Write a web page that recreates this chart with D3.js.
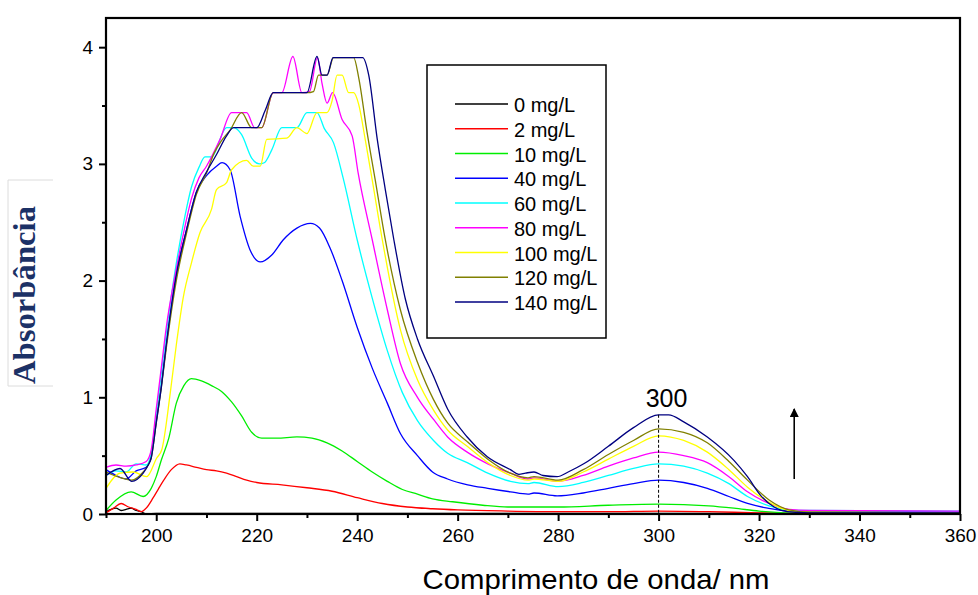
<!DOCTYPE html>
<html>
<head>
<meta charset="utf-8">
<script src="https://cdn.jsdelivr.net/npm/d3@7"></script>
<style>
  body { margin: 0; background: #ffffff; }
  text { font-family: "Liberation Sans", Arial, sans-serif; }
</style>
</head>
<body>
<div id="container"></div>
<script>
let w = 978;
let h = 595;

// legend labels and line colours
let concentrations = ["0 mg/L", "2 mg/L", "10 mg/L", "40 mg/L", "60 mg/L", "80 mg/L", "100 mg/L", "120 mg/L", "140 mg/L"];
let colors = ["#000000", "#ff0000", "#00ee00", "#0000ff", "#00ffff", "#ff00ff", "#ffff00", "#808000", "#000080"];

// spectra: wavelength (nm) / absorbance
let wl0  = [190, 191, 192, 193, 194, 195, 196, 197, 198, 200, 230, 260, 300, 330, 360];
let abs0 = [0.02, 0.04, 0.05, 0.03, 0.04, 0.05, 0.03, 0.02, 0.0, 0.005, 0.005, 0.005, 0.005, 0.005, 0.005];

let wl2  = [190, 191.5, 193, 194.5, 196, 197, 198, 199.4, 200.5, 201.5, 203, 204.7, 206, 208, 210, 212, 214, 216, 218, 220, 225, 230, 235, 240, 245, 250, 255, 260, 270, 280, 290, 300, 310, 320, 330, 360];
let abs2 = [0.01, 0.05, 0.09, 0.06, 0.04, 0.02, 0.05, 0.14, 0.22, 0.29, 0.38, 0.43, 0.42, 0.40, 0.38, 0.37, 0.35, 0.32, 0.29, 0.27, 0.25, 0.225, 0.195, 0.14, 0.09, 0.06, 0.045, 0.035, 0.025, 0.02, 0.02, 0.025, 0.02, 0.01, 0.005, 0.005];

let wl10  = [190, 192, 195, 197.4, 199, 200, 201, 202.5, 204, 205.5, 207, 209, 211, 213, 215, 217, 219, 221, 224, 228, 231, 234, 237, 240, 243, 246, 249, 252, 255, 259, 265, 270, 280, 290, 300, 310, 315, 320, 325, 330, 360];
let abs10 = [0.03, 0.12, 0.19, 0.15, 0.22, 0.32, 0.46, 0.65, 0.95, 1.1, 1.16, 1.14, 1.1, 1.05, 0.96, 0.84, 0.70, 0.65, 0.65, 0.66, 0.65, 0.61, 0.54, 0.45, 0.36, 0.28, 0.21, 0.17, 0.13, 0.105, 0.075, 0.06, 0.06, 0.075, 0.085, 0.07, 0.05, 0.025, 0.01, 0.005, 0.005];

let wl40  = [190, 192, 194, 196, 198, 199, 200, 201, 202, 204, 206, 208, 210, 212, 213.1, 214.7, 216.7, 218.7, 220.7, 223, 225.3, 228, 230.7, 232.5, 234.6, 237, 240, 243, 246, 248.6, 252, 255, 258, 262, 266, 270.5, 274, 275.2, 279.8, 285, 290, 295, 300, 305, 309.7, 314, 317.7, 321.7, 325, 330, 360];
let abs40 = [0.38, 0.33, 0.30, 0.37, 0.40, 0.5, 0.8, 1.1, 1.45, 2.05, 2.43, 2.76, 2.9, 2.98, 3.01, 2.95, 2.55, 2.26, 2.16, 2.22, 2.35, 2.45, 2.49, 2.45, 2.28, 2.0, 1.6, 1.25, 0.95, 0.69, 0.5, 0.36, 0.3, 0.25, 0.22, 0.19, 0.17, 0.18, 0.155, 0.18, 0.22, 0.26, 0.29, 0.27, 0.22, 0.15, 0.09, 0.05, 0.03, 0.025, 0.02];

let wl60  = [190, 192, 194, 196, 198, 199, 200, 201, 202, 204, 205.7, 207, 208.5, 209.7, 211, 214, 215.4, 217, 219, 220.5, 221.5, 223, 225, 228, 230, 232, 233.5, 235.3, 237.2, 240, 243, 246, 249, 252, 255.2, 258, 261.9, 266, 270.5, 274, 275.2, 280, 285, 290, 295, 300, 305, 309.7, 314, 317.7, 322, 326, 330, 360];
let abs60 = [0.33, 0.37, 0.36, 0.43, 0.42, 0.52, 0.85, 1.2, 1.55, 2.15, 2.55, 2.8, 2.97, 3.06, 3.06, 3.31, 3.31, 3.25, 3.05, 3.0, 3.01, 3.12, 3.31, 3.31, 3.44, 3.44, 3.3, 3.18, 2.88, 2.35, 1.85, 1.4, 1.04, 0.8, 0.63, 0.52, 0.44, 0.35, 0.28, 0.26, 0.27, 0.235, 0.27, 0.33, 0.39, 0.43, 0.41, 0.35, 0.26, 0.15, 0.07, 0.035, 0.03, 0.025];

let wl80  = [190, 192, 194, 196, 198, 199, 200, 201, 202, 204, 205.4, 207, 208.5, 210, 212.7, 215, 218, 219.6, 221, 223.3, 225, 227.2, 229, 230.5, 232.1, 233, 234, 235.1, 237, 239, 240.2, 243, 246, 248.6, 252, 255.2, 258, 261.9, 266, 270.5, 274, 275.2, 280, 285, 290, 295, 300, 305, 309.7, 314, 317.7, 322, 326, 330, 360];
let abs80 = [0.40, 0.42, 0.41, 0.42, 0.45, 0.55, 0.9, 1.25, 1.6, 2.1, 2.4, 2.7, 2.88, 2.98, 3.21, 3.44, 3.44, 3.31, 3.31, 3.61, 3.61, 3.92, 3.61, 3.62, 3.91, 3.69, 3.52, 3.61, 3.38, 3.24, 2.92, 2.35, 1.75, 1.29, 1.0, 0.81, 0.66, 0.53, 0.43, 0.35, 0.30, 0.31, 0.28, 0.33, 0.41, 0.48, 0.53, 0.5, 0.44, 0.32, 0.19, 0.09, 0.04, 0.03, 0.025];

let wl100  = [190, 192.8, 195.4, 198.1, 200.1, 201.1, 202.8, 204, 205.4, 207, 208.7, 211, 212, 214, 215, 218, 219.3, 220.7, 222, 226, 228, 230, 232, 234, 235, 236, 237, 238.3, 239.3, 240.3, 241.6, 243, 245, 248.6, 252, 255.2, 258, 261.9, 266, 270.5, 274, 275.2, 280, 285, 290, 295, 300, 305, 309.7, 314, 317.7, 322, 326, 330, 360];
let abs100 = [0.22, 0.35, 0.36, 0.32, 0.48, 0.55, 1.04, 1.45, 1.86, 2.15, 2.41, 2.61, 2.78, 2.84, 2.95, 3.03, 2.98, 2.98, 3.21, 3.22, 3.31, 3.26, 3.44, 3.44, 3.54, 3.76, 3.76, 3.61, 3.61, 3.51, 3.21, 2.86, 2.35, 1.58, 1.15, 0.89, 0.72, 0.58, 0.44, 0.33, 0.29, 0.30, 0.28, 0.36, 0.47, 0.58, 0.67, 0.63, 0.53, 0.38, 0.23, 0.10, 0.03, 0.015, 0.01];

let wl120  = [190, 193, 195.1, 197.4, 198.4, 199, 200, 201, 202, 204, 206, 208, 210, 211.5, 213, 214.7, 217, 219, 221, 223.3, 230, 231.3, 232.3, 234, 235.3, 239.3, 240.3, 241.9, 243.6, 245.6, 248.6, 252, 255.2, 258, 261.9, 266, 270.5, 274, 275.2, 280, 285, 290, 295, 300, 305, 309.7, 314, 317.7, 322, 326, 330, 360];
let abs120 = [0.36, 0.31, 0.29, 0.36, 0.42, 0.48, 0.78, 1.08, 1.42, 2.0, 2.4, 2.74, 2.92, 3.09, 3.2, 3.29, 3.44, 3.31, 3.31, 3.61, 3.61, 3.62, 3.76, 3.76, 3.91, 3.91, 3.74, 3.29, 2.86, 2.35, 1.75, 1.3, 0.98, 0.78, 0.62, 0.47, 0.35, 0.31, 0.32, 0.29, 0.38, 0.51, 0.63, 0.73, 0.7, 0.61, 0.45, 0.29, 0.12, 0.035, 0.015, 0.01];

let wl140  = [190, 192.8, 195.1, 197.4, 198.4, 199, 200, 201, 202, 204, 206, 208, 210, 212, 214, 215.4, 220, 221.7, 223.3, 230, 232, 233, 234, 235.2, 241.1, 242.3, 244, 245.6, 247.3, 249.6, 252, 255.2, 258, 261.9, 265.9, 270.5, 272.2, 273.5, 275.2, 277, 279.8, 282, 285.1, 290, 295, 300, 302, 305, 309.7, 315, 317.7, 320.3, 323, 325.6, 330, 360];
let abs140 = [0.33, 0.39, 0.28, 0.35, 0.42, 0.48, 0.78, 1.08, 1.45, 2.05, 2.43, 2.76, 2.93, 3.08, 3.24, 3.31, 3.31, 3.46, 3.61, 3.61, 3.92, 3.76, 3.76, 3.91, 3.91, 3.76, 3.21, 2.78, 2.35, 1.84, 1.5, 1.18, 0.9, 0.66, 0.49, 0.38, 0.34, 0.35, 0.36, 0.33, 0.32, 0.36, 0.43, 0.58, 0.74, 0.85, 0.85, 0.79, 0.66, 0.46, 0.32, 0.16, 0.06, 0.02, 0.01, 0.01];

let wls = [wl0, wl2, wl10, wl40, wl60, wl80, wl100, wl120, wl140];
let absList = [abs0, abs2, abs10, abs40, abs60, abs80, abs100, abs120, abs140];

// ticks
let xMajor = [200, 220, 240, 260, 280, 300, 320, 340, 360];
let xMinor = [190, 210, 230, 250, 270, 290, 310, 330, 350];
let yMajor = [0, 1, 2, 3, 4];
let yMinor = [0.5, 1.5, 2.5, 3.5];

// annotation: peak wavelength and arrow (nm, absorbance)
let peakWl = 300;
let arrowWl = 327;
let arrowFrom = 0.30;
let arrowTo = 0.90;

let series = concentrations.map((c, i) => ({
  label: c,
  color: colors[i],
  points: d3.zip(wls[i], absList[i])
}));

let x = d3.scaleLinear().domain([190, 360]).range([106, 960]);
let y = d3.scaleLinear().domain([0, 4.25]).range([514, 18]);

let viz = d3.select("#container")
              .append("svg")
                .attr("width", w)
                .attr("height", h)
                .style("background-color", "#ffffff");

viz.append("defs").append("clipPath")
      .attr("id", "plotClip")
    .append("rect")
      .attr("x", x(190))
      .attr("y", y(4.25))
      .attr("width", x(360) - x(190))
      .attr("height", y(0) - y(4.25));

//---arrow head (points along the line)
viz.select("defs").append("marker")
      .attr("id", "arrowHead")
      .attr("viewBox", "0 0 10 10")
      .attr("refX", 9)
      .attr("refY", 5)
      .attr("markerWidth", 14)
      .attr("markerHeight", 9)
      .attr("markerUnits", "userSpaceOnUse")
      .attr("orient", "auto")
    .append("path")
      .attr("d", "M0,0 L10,5 L0,10 Z")
      .attr("fill", "#000");

//---curves
let line = d3.line()
              .x(d => x(d[0]))
              .y(d => y(d[1]))
              .curve(d3.curveMonotoneX);

viz.append("g")
      .attr("clip-path", "url(#plotClip)")
    .selectAll(".spectrum").data(series).enter()
    .append("path")
      .attr("class", "spectrum")
      .attr("d", d => line(d.points))
      .attr("fill", "none")
      .attr("stroke", d => d.color)
      .attr("stroke-width", 1.3)
      .attr("stroke-linejoin", "round");

//---axes
let xAxis = viz.append("g")
      .attr("transform", "translate(0," + y(0) + ")")
      .call(d3.axisBottom(x).tickValues(xMajor).tickSize(7).tickPadding(8).tickFormat(d3.format("d")));
let xAxisMinor = viz.append("g")
      .attr("transform", "translate(0," + y(0) + ")")
      .call(d3.axisBottom(x).tickValues(xMinor).tickSize(4).tickFormat(""));
let yAxis = viz.append("g")
      .attr("transform", "translate(" + x(190) + ",0)")
      .call(d3.axisLeft(y).tickValues(yMajor).tickSize(7).tickPadding(6).tickFormat(d3.format("d")));
let yAxisMinor = viz.append("g")
      .attr("transform", "translate(" + x(190) + ",0)")
      .call(d3.axisLeft(y).tickValues(yMinor).tickSize(4).tickFormat(""));

[xAxis, xAxisMinor, yAxis, yAxisMinor].forEach(a => {
  a.select(".domain").remove();
  a.selectAll(".tick line").attr("stroke", "#000").attr("stroke-width", 2);
  a.selectAll(".tick text")
      .attr("fill", "#000")
      .style("font-size", "19px");
});

//---frame
viz.append("rect")
      .attr("x", x(190))
      .attr("y", y(4.25))
      .attr("width", x(360) - x(190))
      .attr("height", y(0) - y(4.25))
      .attr("fill", "none")
      .attr("stroke", "#000")
      .attr("stroke-width", 2.2);

//---axis titles
viz.append("text")
      .text("Comprimento de onda/ nm")
      .attr("x", 596)
      .attr("y", 589)
      .attr("text-anchor", "middle")
      .attr("textLength", 347)
      .attr("lengthAdjust", "spacingAndGlyphs")
      .style("font-size", "28px")
      .attr("fill", "#000");

viz.append("path")
      .attr("d", "M53,180 H8 V386 H53")
      .attr("fill", "none")
      .attr("stroke", "#dcdcdc")
      .attr("stroke-width", 1);

viz.append("text")
      .text("Absorbância")
      .attr("transform", "translate(35,295) rotate(-90)")
      .attr("text-anchor", "middle")
      .attr("textLength", 178)
      .attr("lengthAdjust", "spacingAndGlyphs")
      .style("font-family", "'Liberation Serif', 'DejaVu Serif', serif")
      .style("font-weight", "bold")
      .style("font-size", "31px")
      .attr("fill", "#1c3166");

//---peak marker
let peakAbs = abs140[wl140.indexOf(peakWl)];
viz.append("line")
      .attr("x1", x(peakWl))
      .attr("x2", x(peakWl))
      .attr("y1", y(peakAbs))
      .attr("y2", y(0))
      .attr("stroke", "#000")
      .attr("stroke-width", 1)
      .attr("stroke-dasharray", "3,2");

viz.append("text")
      .text(String(peakWl))
      .attr("x", x(peakWl) + 8)
      .attr("y", y(peakAbs) - 8)
      .attr("text-anchor", "middle")
      .style("font-size", "25px")
      .attr("fill", "#000");

//---arrow
viz.append("line")
      .attr("x1", x(arrowWl))
      .attr("x2", x(arrowWl))
      .attr("y1", y(arrowFrom))
      .attr("y2", y(arrowTo))
      .attr("stroke", "#000")
      .attr("stroke-width", 1.6)
      .attr("marker-end", "url(#arrowHead)");

//---legend
let legend = viz.append("g");
legend.append("rect")
      .attr("x", 427)
      .attr("y", 65)
      .attr("width", 179)
      .attr("height", 273)
      .attr("fill", "#fff")
      .attr("stroke", "#000")
      .attr("stroke-width", 1.5);

let rows = legend.selectAll(".legendRow").data(series).enter()
    .append("g")
      .attr("class", "legendRow")
      .attr("transform", (d, i) => "translate(455," + (104 + i * 24.75) + ")");

rows.append("line")
      .attr("x1", 0)
      .attr("x2", 53)
      .attr("stroke", d => d.color)
      .attr("stroke-width", 1.5);

rows.append("text")
      .text(d => d.label)
      .attr("x", 59)
      .attr("y", 8)
      .style("font-size", "20px")
      .attr("fill", "#000");
</script>
</body>
</html>
